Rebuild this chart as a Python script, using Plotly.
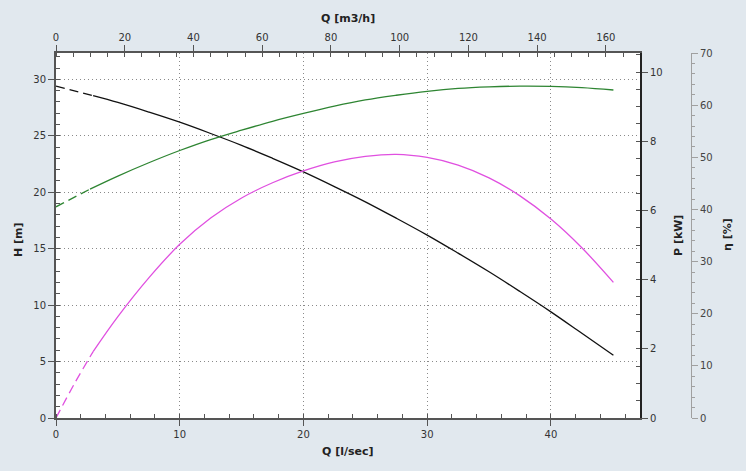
import plotly.graph_objects as go

# ---- data ----
Q_H = [0, 3.0, 5, 7.5, 10, 12.5, 15, 17.5, 20, 22.5, 25, 27.5, 30, 32.5, 35, 37.5, 40, 42.5, 45.05]
H_m = [29.4, 28.55, 27.95, 27.1, 26.2, 25.2, 24.15, 23.0, 21.8, 20.5, 19.15, 17.7, 16.2, 14.6, 12.95, 11.2, 9.4, 7.5, 5.55]

Q_E = [0, 2.75, 5, 7.5, 10, 12.5, 15, 17.5, 20, 22.5, 25, 27.5, 30, 32.5, 35, 37.5, 40, 42.5, 45.05]
ETA = [40.5, 43.9, 46.4, 48.95, 51.3, 53.4, 55.2, 56.9, 58.4, 59.8, 61.0, 61.9, 62.65, 63.2, 63.5, 63.65, 63.6, 63.35, 62.9]

Q_P = [0, 1.5, 3.0, 5, 7.5, 10, 12.5, 15, 17.5, 20, 22.5, 25, 27.5, 30, 32.5, 35, 37.5, 40, 42.5, 45.05]
P_kW = [0, 1.0, 1.92, 2.93, 4.05, 5.02, 5.78, 6.36, 6.80, 7.14, 7.40, 7.56, 7.62, 7.53, 7.31, 6.94, 6.42, 5.75, 4.92, 3.92]

DASH_END = {"H": 2, "E": 2, "P": 3}  # index where the solid part starts
M3H_PER_LS = 3.6

Q_RANGE = [0, 47.2]
H_RANGE = [0, 32.33]
P_RANGE = [0, 10.55]
E_RANGE = [0, 70]

BG = "#e1e8ee"
FONT = "DejaVu Sans"
TICKFONT = dict(family=FONT, size=10, color="#333")
AX = "#555"
GRID = "#8a8a8a"

C_H = "#111111"
C_E = "#2e8532"
C_P = "#e050e0"

fig = go.Figure()


def add_curve(q, v, key, color, yaxis):
    k = DASH_END[key]
    fig.add_trace(go.Scatter(x=q[:k], y=v[:k], mode="lines", yaxis=yaxis, xaxis="x",
                             line=dict(color=color, width=1.3, dash="9px,5px",
                                       shape="spline", smoothing=1.0),
                             showlegend=False, hoverinfo="skip"))
    fig.add_trace(go.Scatter(x=q[k - 1:], y=v[k - 1:], mode="lines", yaxis=yaxis, xaxis="x",
                             line=dict(color=color, width=1.3, shape="spline", smoothing=1.0),
                             showlegend=False, hoverinfo="skip"))


add_curve(Q_H, H_m, "H", C_H, "y")
add_curve(Q_E, ETA, "E", C_E, "y3")
add_curve(Q_P, P_kW, "P", C_P, "y2")

# invisible trace so that the m3/h axis is drawn
fig.add_trace(go.Scatter(x=[q * M3H_PER_LS for q in Q_H], y=H_m, xaxis="x2", yaxis="y",
                         mode="lines", line=dict(width=0), opacity=0,
                         showlegend=False, hoverinfo="skip"))

W, L, R = 746, 56, 55
paper_w = W - L - R
dom_end = (640 - L) / paper_w

common = dict(showline=True, linecolor=AX, linewidth=2, ticks="outside", ticklen=6,
              tickcolor=AX, tickwidth=1, tickfont=TICKFONT, zeroline=False)
grid = dict(showgrid=True, gridcolor=GRID, griddash="1px,3px", gridwidth=1)

fig.update_layout(
    width=746, height=471, autosize=False,
    margin=dict(l=L, r=R, t=53, b=53, pad=0),
    paper_bgcolor=BG, plot_bgcolor="white",
    font=dict(family=FONT, size=10, color="#333"),
    showlegend=False,
    xaxis=dict(domain=[0, dom_end], range=Q_RANGE, dtick=10, tick0=0, anchor="y",
               minor=dict(dtick=2, tick0=0, ticks="inside", ticklen=4, tickcolor=AX, showgrid=False),
               **grid, **common),
    xaxis2=dict(domain=[0, dom_end], range=[Q_RANGE[0] * M3H_PER_LS, Q_RANGE[1] * M3H_PER_LS],
                dtick=20, tick0=0, overlaying="x", side="top", anchor="y", showgrid=False,
                minor=dict(dtick=5, tick0=0, ticks="inside", ticklen=4, tickcolor=AX, showgrid=False),
                **common),
    yaxis=dict(range=H_RANGE, dtick=5, tick0=0, anchor="x",
               minor=dict(dtick=1, tick0=0, ticks="inside", ticklen=4, tickcolor=AX, showgrid=False),
               **grid, **common),
    yaxis2=dict(range=P_RANGE, dtick=2, tick0=0, overlaying="y", side="right", anchor="x",
                showgrid=False,
                minor=dict(dtick=0.5, tick0=0, ticks="inside", ticklen=4, tickcolor=AX, showgrid=False),
                **{**common, "linecolor": "#222"}),
    yaxis3=dict(range=E_RANGE, dtick=10, tick0=0, overlaying="y", side="right", anchor="free",
                position=1.0, showgrid=False, showline=True, linecolor="#a0a0a0", linewidth=1,
                ticks="outside", ticklen=6, tickcolor="#a0a0a0", tickwidth=1,
                tickfont=dict(family=FONT, size=10, color="#444"), zeroline=False,
                minor=dict(dtick=2, tick0=0, ticks="outside", ticklen=3, tickcolor="#a0a0a0", showgrid=False)),
)

TITLEFONT = dict(family=FONT, size=11, color="#222")


def px_x(px):
    return (px - L) / paper_w


def px_y(py):
    return (418 - py) / 365


titles = [
    ("<b>Q [l/sec]</b>", 348, 451, 0),
    ("<b>Q [m3/h]</b>", 348, 19, 0),
    ("<b>H [m]</b>", 18, 240, -90),
    ("<b>P [kW]</b>", 678, 236, -90),
    ("<b>η [%]</b>", 728, 235, -90),
]
for text, x, y, ang in titles:
    fig.add_annotation(text=text, x=px_x(x), y=px_y(y), xref="paper", yref="paper",
                       showarrow=False, textangle=ang, font=TITLEFONT,
                       xanchor="center", yanchor="middle")

fig.write_html("out.html")
